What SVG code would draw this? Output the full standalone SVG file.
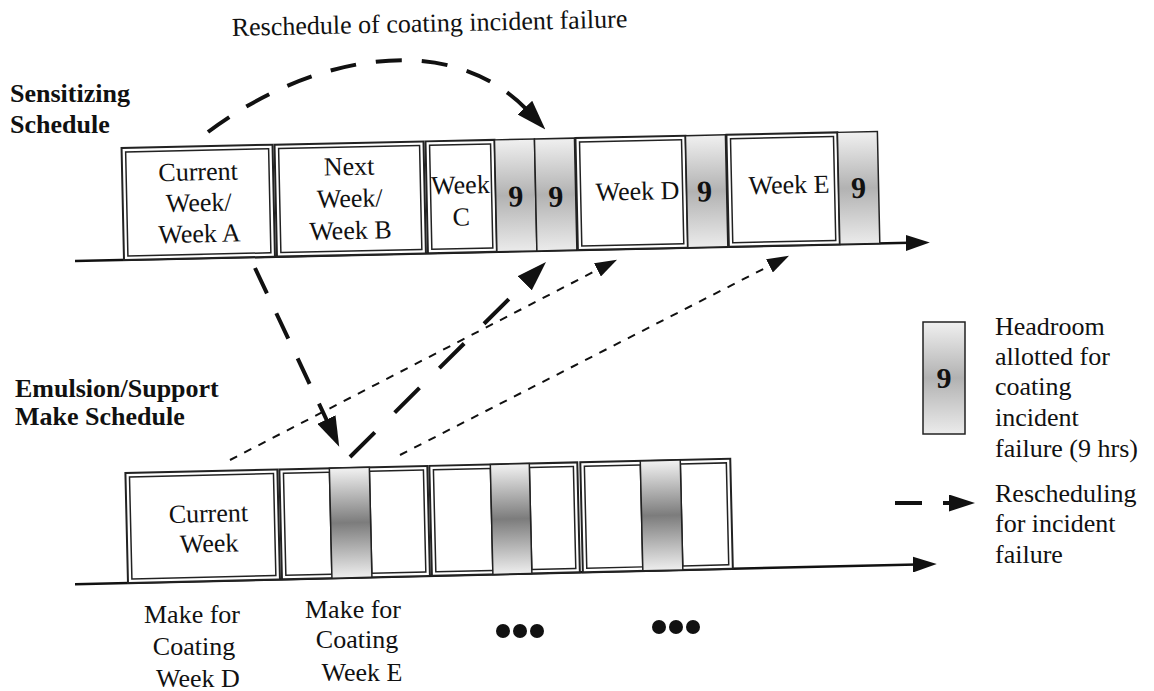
<svg xmlns="http://www.w3.org/2000/svg" width="1154" height="691" viewBox="0 0 1154 691">
<defs>
<style>
.t{font-family:"Liberation Serif","Times New Roman",serif;font-size:26px;fill:#111}
.m{text-anchor:middle}
.b{font-weight:bold}
.n{font-family:"Liberation Serif","Times New Roman",serif;font-weight:bold;font-size:30px;fill:#111;text-anchor:middle}
.wo{fill:#fff;stroke:#222;stroke-width:2}
.wi{fill:none;stroke:#222;stroke-width:1.5}
.sa{fill:url(#gA);stroke:#222;stroke-width:1.5}
.sb{fill:url(#gB);stroke:#222;stroke-width:1.5}
.tl{fill:none;stroke:#111;stroke-width:2.5}
.big{fill:none;stroke:#111;stroke-width:4}
.thin{fill:none;stroke:#111;stroke-width:2;stroke-dasharray:8 8}
</style>
<linearGradient id="gA" x1="0" y1="0" x2="0" y2="1">
<stop offset="0" stop-color="#f0f0f0"/><stop offset="0.5" stop-color="#b2b2b2"/><stop offset="1" stop-color="#ebebeb"/>
</linearGradient>
<linearGradient id="gB" x1="0" y1="0" x2="0" y2="1">
<stop offset="0" stop-color="#f2f2f2"/><stop offset="0.5" stop-color="#7c7c7c"/><stop offset="1" stop-color="#eeeeee"/>
</linearGradient>
<marker id="ahBig" markerUnits="userSpaceOnUse" viewBox="0 0 30 20" markerWidth="30" markerHeight="20" refX="6" refY="10" orient="auto"><path d="M0,0 L30,10 L0,20 Z" fill="#111"/></marker>
<marker id="ahLeg" markerUnits="userSpaceOnUse" viewBox="0 0 26 17" markerWidth="26" markerHeight="17" refX="4" refY="8.5" orient="auto"><path d="M0,0 L26,8.5 L0,17 Z" fill="#111"/></marker>
<marker id="ahThin" markerUnits="userSpaceOnUse" viewBox="0 0 22 15" markerWidth="22" markerHeight="15" refX="4" refY="7.5" orient="auto"><path d="M0,0 L22,7.5 L0,15 Z" fill="#111"/></marker>
<marker id="ahTl" markerUnits="userSpaceOnUse" viewBox="0 0 24 16" markerWidth="24" markerHeight="16" refX="4" refY="8" orient="auto"><path d="M0,0 L24,8 L0,16 Z" fill="#111"/></marker>
</defs>
<rect width="1154" height="691" fill="#fff"/>

<g id="title"><text class="t" x="232" y="36" transform="rotate(-1.25 232 36)">Reschedule of coating incident failure</text></g>
<g id="label-sensitizing"><text class="t b" x="10" y="102">Sensitizing</text><text class="t b" x="10" y="133">Schedule</text></g>
<g id="label-emulsion"><text class="t b" x="15" y="397">Emulsion/Support</text><text class="t b" x="15" y="425">Make Schedule</text></g>

<g id="sensitizing-schedule" transform="rotate(-1.25 123 260)">
<line class="tl" x1="75" y1="260" x2="910" y2="260" marker-end="url(#ahTl)"/>
<g id="week-a"><rect class="wo" x="124" y="148" width="151" height="112"/><rect class="wi" x="128" y="152" width="143" height="104"/>
<text class="t m" x="200" y="182">Current</text><text class="t m" x="200" y="213">Week/</text><text class="t m" x="200" y="244">Week A</text></g>
<g id="week-b"><rect class="wo" x="277" y="148" width="149" height="112"/><rect class="wi" x="281" y="152" width="141" height="104"/>
<text class="t m" x="351" y="180">Next</text><text class="t m" x="351" y="212">Week/</text><text class="t m" x="351" y="244">Week B</text></g>
<g id="week-c"><rect class="wo" x="428" y="148" width="69" height="112"/><rect class="wi" x="432" y="152" width="61" height="104"/>
<text class="t m" x="462" y="201">Week</text><text class="t m" x="462" y="233">C</text></g>
<g id="headroom-c1"><rect class="sa" x="497" y="148" width="40" height="112"/><text class="n" x="517" y="215">9</text></g>
<g id="headroom-c2"><rect class="sa" x="537" y="148" width="40" height="112"/><text class="n" x="557" y="216">9</text></g>
<g id="week-d"><rect class="wo" x="578" y="148" width="110" height="112"/><rect class="wi" x="582" y="152" width="102" height="104"/>
<text class="t" x="597" y="211">Week D</text></g>
<g id="headroom-d"><rect class="sa" x="688" y="148" width="40" height="112"/><text class="n" x="706" y="214">9</text></g>
<g id="week-e"><rect class="wo" x="729" y="148" width="111" height="112"/><rect class="wi" x="733" y="152" width="103" height="104"/>
<text class="t" x="750" y="208">Week E</text></g>
<g id="headroom-e"><rect class="sa" x="840" y="148" width="40" height="112"/><text class="n" x="860" y="214">9</text></g>
</g>

<g id="make-schedule" transform="rotate(-1.35 128 583)">
<line class="tl" x1="75" y1="583" x2="917" y2="583" marker-end="url(#ahTl)"/>
<g id="make-current"><rect class="wo" x="128" y="473" width="152" height="110"/><rect class="wi" x="132" y="477" width="144" height="102"/>
<text class="t m" x="210" y="524">Current</text><text class="t m" x="210" y="554">Week</text></g>
<g id="make-week-d"><rect class="wo" x="282" y="473" width="148" height="110"/>
<rect class="wi" x="286" y="477" width="46" height="102"/><rect class="wi" x="372" y="477" width="54" height="102"/>
<rect class="sb" x="332" y="473" width="40" height="110"/></g>
<g id="make-week-e"><rect class="wo" x="432" y="473" width="148" height="110"/>
<rect class="wi" x="436" y="477" width="57" height="102"/><rect class="wi" x="532" y="477" width="44" height="102"/>
<rect class="sb" x="493" y="473" width="39" height="110"/></g>
<g id="make-week-f"><rect class="wo" x="583" y="473" width="150" height="110"/>
<rect class="wi" x="587" y="477" width="56" height="102"/><rect class="wi" x="683" y="477" width="46" height="102"/>
<rect class="sb" x="643" y="473" width="40" height="110"/></g>
</g>

<g id="make-labels">
<text class="t m" x="192" y="623">Make for</text><text class="t m" x="194" y="655">Coating</text><text class="t m" x="198" y="687">Week D</text>
<text class="t m" x="353" y="618">Make for</text><text class="t m" x="357" y="648">Coating</text><text class="t m" x="362" y="681">Week E</text>
<g fill="#111"><circle cx="503" cy="631" r="7"/><circle cx="520" cy="631" r="7"/><circle cx="537" cy="631" r="7"/>
<circle cx="659" cy="627" r="7"/><circle cx="676" cy="627" r="7"/><circle cx="693" cy="627" r="7"/></g>
</g>

<g id="legend">
<g id="legend-headroom"><rect class="sa" x="923" y="322" width="42" height="112"/><text class="n" x="944" y="388">9</text>
<text class="t" x="995" y="335">Headroom</text><text class="t" x="995" y="365">allotted for</text><text class="t" x="995" y="395">coating</text><text class="t" x="995" y="426">incident</text><text class="t" x="995" y="457">failure (9 hrs)</text></g>
<g id="legend-reschedule"><line class="big" x1="895" y1="503" x2="922" y2="503"/><path class="big" d="M943,503 L953,503" marker-end="url(#ahLeg)"/>
<text class="t" x="995" y="502">Rescheduling</text><text class="t" x="995" y="532">for incident</text><text class="t" x="995" y="563">failure</text></g>
</g>

<g id="connectors">
<path class="big" d="M208,132 C308,57 449,26 529,112" stroke-dasharray="26 20" marker-end="url(#ahBig)"/>
<path class="big" d="M255,268 L329,425" stroke-dasharray="28 22" marker-end="url(#ahBig)"/>
<path class="big" d="M350,457 L529,279" stroke-dasharray="35 28" marker-end="url(#ahBig)"/>
<path class="thin" d="M230,460 L601,268" marker-end="url(#ahThin)"/>
<path class="thin" d="M400,455 L773,264" marker-end="url(#ahThin)"/>
</g>
</svg>
